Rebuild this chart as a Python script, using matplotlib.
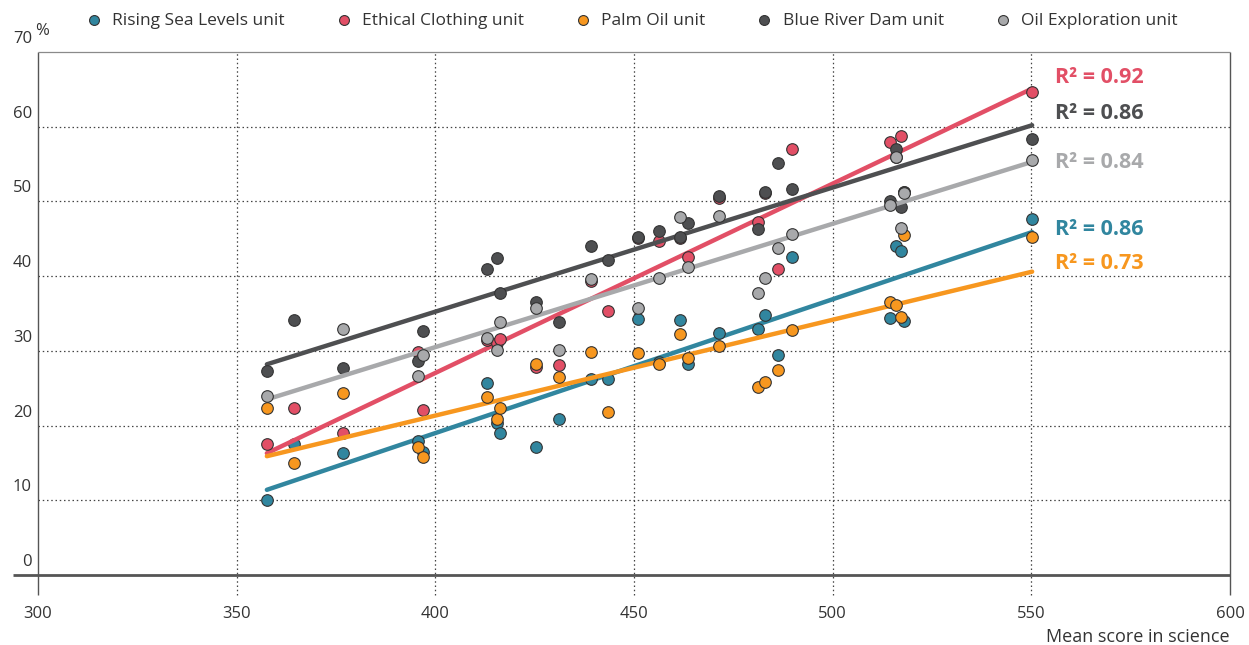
import numpy as np
import matplotlib
matplotlib.use('Agg')
import matplotlib.pyplot as plt

plt.rcParams['font.family'] = ['Open Sans', 'DejaVu Sans']

# Mean science score of each country
science = [357.6, 364.4, 376.8, 395.6, 396.9, 413.0, 415.5, 416.3, 425.3, 431.1,
           439.2, 443.5, 451.0, 456.3, 461.6, 463.6, 471.4, 481.2, 483.0, 486.3,
           489.8, 514.4, 516.0, 517.2, 518.0, 550.2]

# Share of students (%) answering each unit correctly
sea_levels = [10.0, 17.6, 16.3, 17.9, 16.4, 25.7, 20.3, 19.0, 17.1, 20.9,
              26.3, 26.3, 34.2, 28.5, 34.1, 28.3, 32.4, 32.9, 34.8, 29.5,
              42.5, 34.4, 44.0, 43.3, 34.0, 47.7]
clothing = [17.5, 22.3, 19.0, 29.9, 22.1, 31.4, 31.0, 31.6, 27.8, 28.1,
            39.3, 35.3, 45.1, 44.7, 45.1, 42.6, 50.4, 47.2, 51.1, 41.0,
            57.0, 57.9, 56.0, 58.8, 51.3, 64.6]
palm_oil = [22.3, 15.0, 24.3, 17.1, 15.8, 23.8, 20.9, 22.3, 28.3, 26.5,
            29.9, 21.8, 29.7, 28.3, 32.2, 29.1, 30.7, 25.1, 25.8, 27.5,
            32.8, 36.5, 36.2, 34.5, 45.5, 45.2]
river_dam = [27.3, 34.1, 27.7, 28.7, 32.6, 41.0, 42.4, 37.8, 36.6, 33.8,
             44.0, 42.1, 45.3, 46.1, 45.2, 47.1, 50.7, 46.3, 51.2, 55.1,
             51.6, 50.1, 57.0, 49.2, 51.2, 58.3]
oil_explo = [23.9, np.nan, 32.9, 26.6, 29.4, 31.7, 30.1, 33.8, 35.8, 30.1,
             39.6, np.nan, 35.7, 39.7, 47.9, 41.2, 48.0, 37.7, 39.8, 43.8,
             45.7, 49.5, 56.0, 46.5, 51.1, 55.5]

# Trend lines: value at the lowest and at the highest science score
trend_x = [357.6, 550.2]
sea_trend = [11.4, 45.9]
clothing_trend = [16.3, 65.1]
palm_trend = [15.9, 40.6]
dam_trend = [28.2, 60.2]
explo_trend = [23.5, 55.3]

names = ['Rising Sea Levels unit', 'Ethical Clothing unit', 'Palm Oil unit',
         'Blue River Dam unit', 'Oil Exploration unit']
r2 = [0.86, 0.92, 0.73, 0.86, 0.84]
colors = ['#31869f', '#e24f66', '#f7971f', '#4e4f51', '#a8a9ab']
series = [sea_levels, clothing, palm_oil, river_dam, oil_explo]
trends = [sea_trend, clothing_trend, palm_trend, dam_trend, explo_trend]
label_y = [46.3, 66.6, 41.7, 61.8, 55.2]

fig = plt.figure(figsize=(12.49, 6.45), dpi=100)
ax = fig.add_axes([38 / 1249, 70 / 645, 1192 / 1249, 523 / 645])
ax.set_xlim(300, 600)
ax.set_ylim(0, 70)
for s in ax.spines.values():
    s.set_visible(False)

# grid
dots = (0, (1.2, 2.2))
ax.hlines(np.arange(10, 70, 10), 300, 600, colors='#444444', linestyles=dots, lw=0.9, zorder=1)
ax.vlines(np.arange(350, 600, 50), -2.7, 70, colors='#444444', linestyles=dots, lw=0.9,
          clip_on=False, zorder=1)
ax.vlines([300, 600], -2.7, 70, colors='#555555', lw=1.0, clip_on=False, zorder=1)
ax.hlines(70, 300, 600, colors='#8a8a8a', lw=0.9, clip_on=False, zorder=1)
ax.hlines(0, 293.7, 600, colors='#555555', lw=2.0, clip_on=False, zorder=2)

for vals, tr, col, name, r, ly in zip(series, trends, colors, names, r2, label_y):
    ax.plot(trend_x, tr, color=col, lw=3.2, solid_capstyle='round', zorder=3)
    ax.scatter(science, vals, s=70, color=col, edgecolors='#333333', linewidths=0.8,
               zorder=3, label=name)
    ax.text(556, ly, f'R² = {r:.2f}', color=col, fontsize=15.5, fontweight='bold',
            va='center', ha='left')

# axis labels
ax.set_xticks(np.arange(300, 601, 50))
ax.set_yticks([])
ax.tick_params(axis='x', length=0, pad=22, labelsize=12, labelcolor='#333333')
ax.set_xlabel('Mean score in science', fontsize=13, color='#333333', loc='right', labelpad=5)
for v in range(0, 71, 10):
    ax.annotate(str(v), xy=(0, v), xycoords=ax.get_yaxis_transform(),
                xytext=(-6, 5), textcoords='offset pixels', ha='right', va='bottom',
                fontsize=12, color='#333333')
ax.annotate('%', xy=(0, 70), xycoords=ax.get_yaxis_transform(),
            xytext=(-3, 13), textcoords='offset pixels', ha='left', va='bottom',
            fontsize=12, color='#333333')

fig.legend(loc='upper center', bbox_to_anchor=(0.502, 1.005), ncol=5, frameon=False,
           fontsize=12.5, handletextpad=0.05, columnspacing=2.4, scatterpoints=1,
           markerscale=0.85, labelcolor='#333333')

fig.savefig('out.png', dpi=100)
